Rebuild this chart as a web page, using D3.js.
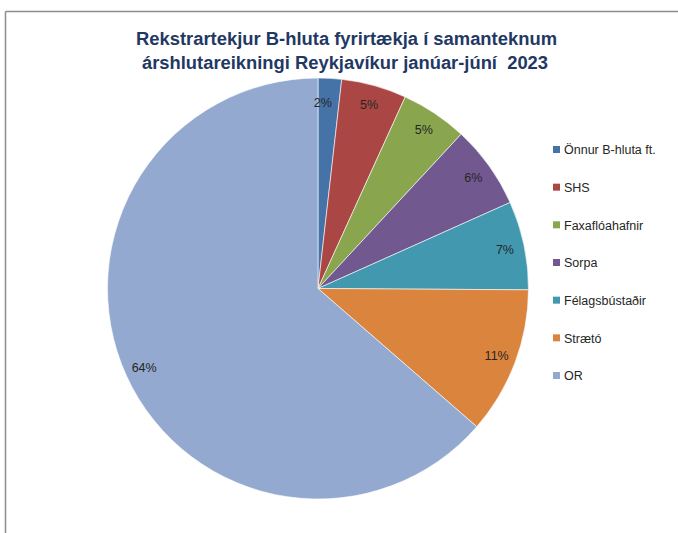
<!DOCTYPE html>
<html>
<head>
<meta charset="utf-8">
<script src="https://cdn.jsdelivr.net/npm/d3@7"></script>
<style>
  html, body { margin: 0; padding: 0; background: #fff; }
  svg { display: block; }
  .title { white-space: pre; }
</style>
</head>
<body>
<svg id="chart" width="678" height="533"></svg>
<script>
const titleLines = ["Rekstrartekjur B-hluta fyrirtækja í samanteknum", "árshlutareikningi Reykjavíkur janúar-júní  2023"];
const categories = ["Önnur B-hluta ft.", "SHS", "Faxaflóahafnir", "Sorpa", "Félagsbústaðir", "Strætó", "OR"];
const values = [1.8, 5.0, 5.1, 6.4, 6.8, 11.3, 63.6];
const colors = ["#4572A7", "#AA4643", "#89A54E", "#71588F", "#4198AF", "#DB843D", "#93A9CF"];

const svg = d3.select("#chart");
const W = 678, H = 533;
const FONT = "'Liberation Sans', Arial, sans-serif";

// frame (top and left edges visible)
svg.append("line").attr("x1", 5.5).attr("y1", 11.5).attr("x2", W).attr("y2", 11.5)
  .attr("stroke", "#8c8c8c").attr("stroke-width", 1.5);
svg.append("line").attr("x1", 5.5).attr("y1", 11.5).attr("x2", 5.5).attr("y2", H)
  .attr("stroke", "#8c8c8c").attr("stroke-width", 1.5);

// title
const titleX = [346.5, 345];
const titleWidths = [421, 406];
titleLines.forEach((t, i) => {
  svg.append("text")
    .attr("class", "title")
    .attr("x", titleX[i]).attr("y", 45 + i * 24)
    .attr("text-anchor", "middle")
    .attr("font-family", FONT)
    .attr("font-weight", "bold")
    .attr("font-size", 17.5)
    .attr("fill", "#1F3864")
    .attr("textLength", titleWidths[i])
    .attr("lengthAdjust", "spacingAndGlyphs")
    .text(t);
});

// pie
const cx = 318, cy = 288.5, R = 210.5;
const pie = d3.pie().sort(null).value(d => d.v);
const data = categories.map((c, i) => ({ c, v: values[i], col: colors[i] }));
const arcs = pie(data);
const arc = d3.arc().innerRadius(0).outerRadius(R);
const g = svg.append("g").attr("transform", `translate(${cx},${cy})`);
g.selectAll("path").data(arcs).join("path")
  .attr("d", arc)
  .attr("fill", d => d.data.col)
  .attr("stroke", "#ffffff").attr("stroke-width", 0.6);

const labelArc = d3.arc().innerRadius(191).outerRadius(191);
const pct = d3.format(".0f");
g.selectAll("text.lbl").data(arcs).join("text")
  .attr("class", "lbl")
  .attr("transform", d => {
    const [x, y] = labelArc.centroid(d);
    return d.index === 0 ? `translate(${x - 6},${y + 5})` : `translate(${x},${y})`;
  })
  .attr("text-anchor", "middle")
  .attr("dy", "0.35em")
  .attr("font-family", FONT)
  .attr("font-size", 12.5)
  .attr("fill", "#262626")
  .text(d => pct(d.data.v) + "%");

// legend
const legY = d3.scalePoint().domain(categories).range([150, 376]);
const leg = svg.append("g");
leg.selectAll("rect").data(data).join("rect")
  .attr("x", 553).attr("y", d => legY(d.c) - 4)
  .attr("width", 7).attr("height", 7)
  .attr("fill", d => d.col);
leg.selectAll("text").data(data).join("text")
  .attr("x", 564).attr("y", d => legY(d.c))
  .attr("dy", "0.35em")
  .attr("font-family", FONT)
  .attr("font-size", 12.5)
  .attr("fill", "#262626")
  .text(d => d.c);
</script>
</body>
</html>
